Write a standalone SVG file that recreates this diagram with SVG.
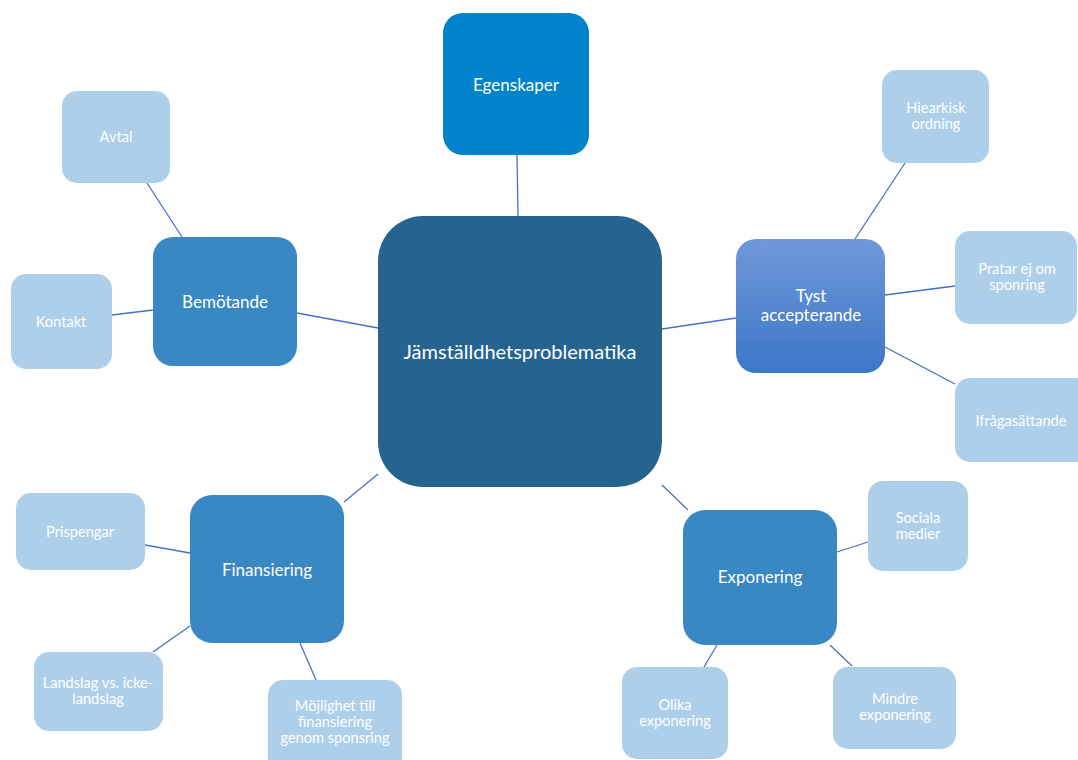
<svg xmlns="http://www.w3.org/2000/svg" width="1078" height="760" viewBox="0 0 1078 760">
<defs>
<linearGradient id="gTyst" x1="0" y1="0" x2="0" y2="1">
<stop offset="0" stop-color="#6F98D7"/>
<stop offset="1" stop-color="#3C77C8"/>
</linearGradient>
<style>
.c{stroke:#4472C4;stroke-width:1.3;fill:none}
.t{font-family:Lato,"Liberation Sans",sans-serif;fill:#FFFFFF;text-anchor:middle}
.s{fill:#AECFEA}
.m{fill:#3A88C3}
.fs{font-size:14.6px}
.fm{font-size:17px}
.fl{font-size:20px}
</style>
</defs>
<rect width="1078" height="760" fill="#FFFFFF"/>
<g id="connectors">
<line class="c" x1="517" y1="155" x2="518" y2="216"/>
<line class="c" x1="297" y1="313" x2="378" y2="328"/>
<line class="c" x1="147" y1="183" x2="182" y2="237"/>
<line class="c" x1="112" y1="315" x2="153" y2="310"/>
<line class="c" x1="662" y1="329" x2="736" y2="318"/>
<line class="c" x1="905" y1="163" x2="855" y2="239"/>
<line class="c" x1="885" y1="295" x2="955" y2="286"/>
<line class="c" x1="885" y1="347" x2="955" y2="384"/>
<line class="c" x1="344" y1="502" x2="378" y2="474"/>
<line class="c" x1="145" y1="545" x2="190" y2="553"/>
<line class="c" x1="153" y1="652" x2="190" y2="626"/>
<line class="c" x1="300" y1="643" x2="316" y2="680"/>
<line class="c" x1="662" y1="485" x2="688" y2="510"/>
<line class="c" x1="837" y1="552" x2="868" y2="542"/>
<line class="c" x1="717" y1="645" x2="704" y2="667"/>
<line class="c" x1="830" y1="645" x2="852" y2="666"/>
</g>
<g id="center">
<rect x="378" y="216" width="284" height="271" rx="45" fill="#26648F"/>
<text class="t fl" x="520" y="359">Jämställdhetsproblematika</text>
</g>
<g id="egenskaper">
<rect x="443" y="13" width="146" height="142" rx="20" fill="#0083CB"/>
<text class="t fm" x="516" y="91">Egenskaper</text>
</g>
<g id="bemotande">
<rect x="153" y="237" width="144" height="129" rx="20" class="m"/>
<text class="t fm" x="225" y="308">Bemötande</text>
</g>
<g id="avtal">
<rect x="62" y="91" width="108" height="92" rx="15" class="s"/>
<text class="t fs" x="116" y="142">Avtal</text>
</g>
<g id="kontakt">
<rect x="11" y="274" width="101" height="95" rx="15" class="s"/>
<text class="t fs" x="61" y="327">Kontakt</text>
</g>
<g id="tyst">
<rect x="736" y="239" width="149" height="134" rx="20" fill="url(#gTyst)"/>
<text class="t fm" x="811" y="302">Tyst</text>
<text class="t fm" x="811" y="321">accepterande</text>
</g>
<g id="hiearkisk">
<rect x="882" y="70" width="107" height="93" rx="15" class="s"/>
<text class="t fs" x="936" y="113">Hiearkisk</text>
<text class="t fs" x="936" y="129">ordning</text>
</g>
<g id="pratar">
<rect x="955" y="231" width="122" height="93" rx="15" class="s"/>
<text class="t fs" x="1017" y="274">Pratar ej om</text>
<text class="t fs" x="1017" y="290">sponring</text>
</g>
<g id="ifragasattande">
<rect x="955" y="378" width="135" height="84" rx="15" class="s"/>
<text class="t fs" x="1021" y="426">Ifrågasättande</text>
</g>
<g id="finansiering">
<rect x="190" y="495" width="154" height="148" rx="22" class="m"/>
<text class="t fm" x="267" y="576">Finansiering</text>
</g>
<g id="prispengar">
<rect x="16" y="493" width="129" height="77" rx="15" class="s"/>
<text class="t fs" x="80" y="537">Prispengar</text>
</g>
<g id="landslag">
<rect x="34" y="652" width="129" height="79" rx="15" class="s"/>
<text class="t fs" x="98" y="688">Landslag vs. icke-</text>
<text class="t fs" x="98" y="704">landslag</text>
</g>
<g id="mojlighet">
<rect x="268" y="680" width="134" height="95" rx="15" class="s"/>
<text class="t fs" x="335" y="711">Möjlighet till</text>
<text class="t fs" x="335" y="727">finansiering</text>
<text class="t fs" x="335" y="743">genom sponsring</text>
</g>
<g id="exponering">
<rect x="683" y="510" width="154" height="135" rx="22" class="m"/>
<text class="t fm" x="760" y="583">Exponering</text>
</g>
<g id="sociala">
<rect x="868" y="481" width="100" height="90" rx="15" class="s"/>
<text class="t fs" x="918" y="523">Sociala</text>
<text class="t fs" x="918" y="539">medier</text>
</g>
<g id="olika">
<rect x="622" y="667" width="106" height="92" rx="15" class="s"/>
<text class="t fs" x="675" y="710">Olika</text>
<text class="t fs" x="675" y="726">exponering</text>
</g>
<g id="mindre">
<rect x="833" y="667" width="123" height="82" rx="15" class="s"/>
<text class="t fs" x="895" y="704">Mindre</text>
<text class="t fs" x="895" y="720">exponering</text>
</g>
</svg>
